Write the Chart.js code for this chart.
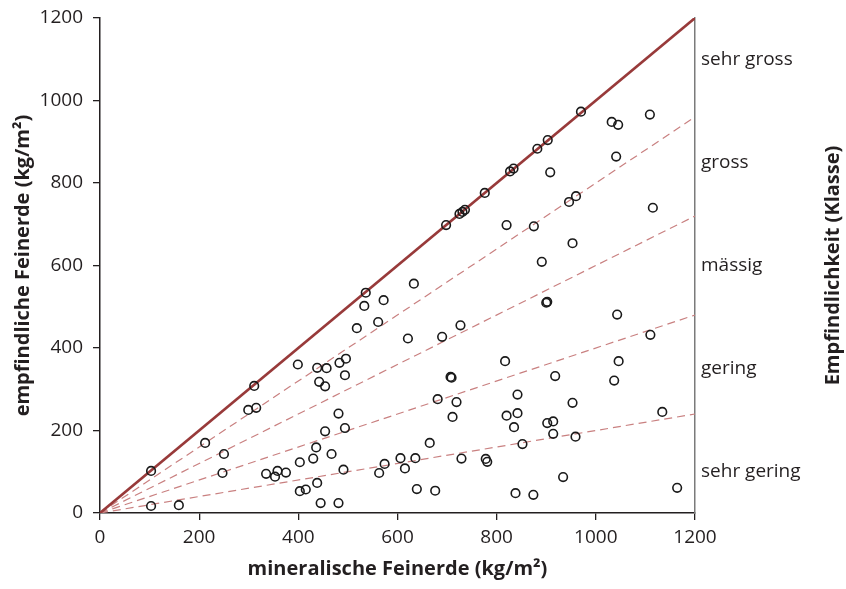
<!DOCTYPE html>
<html>
<head>
<meta charset="utf-8">
<script src="https://cdn.jsdelivr.net/npm/chart.js@4.4.1/dist/chart.umd.min.js"></script>
<style>
    html, body { margin: 0; padding: 0; background: #fff; }
    #wrap { width: 846px; height: 589px; }
</style>
</head>
<body>
<div id="wrap"><canvas id="chart"></canvas></div>
<script>
// mineralische Feinerde (x) / empfindliche Feinerde (y), kg/m²
const mineralX = [
    103, 103, 159, 212, 250, 247, 311, 299, 315, 335, 353, 358, 375, 399, 403, 403, 415, 430, 436, 438,
    445, 438, 457, 442, 454, 483, 496, 494, 454, 481, 494, 467, 491, 481, 518, 533, 536, 572, 561, 563,
    574, 633, 621, 690, 727, 900, 902, 817, 918, 707, 709, 681, 719, 711, 842, 820, 842, 835, 902, 914,
    914, 953, 959, 852, 665, 606, 636, 615, 729, 778, 781, 639, 676, 838, 874, 934, 1043, 1110, 1046, 1037,
    1134, 1164, 698, 725, 731, 736, 776, 820, 827, 834, 875, 882, 903, 908, 891, 946, 960, 953, 970, 1032,
    1045, 1109, 1041, 1115
];
const sensitiveY = [
    102, 17, 19, 170, 143, 97, 308, 250, 255, 95, 88, 102, 98, 360, 123, 53, 57, 132, 159, 73,
    24, 352, 351, 318, 307, 364, 374, 334, 198, 241, 206, 143, 105, 24, 448, 502, 534, 516, 463, 97,
    119, 556, 423, 427, 455, 510, 512, 368, 332, 330, 328, 276, 269, 233, 287, 236, 242, 208, 218, 222,
    192, 267, 185, 167, 170, 133, 133, 108, 132, 131, 124, 58, 54, 48, 44, 87, 481, 432, 368, 321,
    245, 61, 698, 725, 730, 735, 776, 698, 828, 835, 695, 883, 904, 826, 609, 754, 768, 654, 973, 948,
    941, 966, 864, 740
];

// Klassengrenzen: y-Wert der Grenzlinie bei x = 1200
const boundaryEnds = [960, 720, 480, 240];
const axisMax = 1200;

// Klassen rechts
const classLabels = ['sehr gross', 'gross', 'mässig', 'gering', 'sehr gering'];
const classPos = [1100, 850, 600, 350, 100];

const xTitle = 'mineralische Feinerde (kg/m²)';
const yTitle = 'empfindliche Feinerde (kg/m²)';
const rightTitle = 'Empfindlichkeit (Klasse)';

const FONT = '"Open Sans", sans-serif';
const TEXT = '#231f20';

const points = mineralX.map((x, i) => ({ x: x, y: sensitiveY[i] }));

const boundarySets = boundaryEnds.map(v => ({
    type: 'line',
    data: [{ x: 0, y: 0 }, { x: axisMax, y: v }],
    borderColor: '#c98080',
    borderWidth: 1.2,
    borderDash: [8, 5],
    pointRadius: 0,
    order: 2
}));

// rotated title on the right side (reads bottom to top)
const rightTitlePlugin = {
    id: 'rightTitle',
    afterDraw(chart) {
        const ctx = chart.ctx;
        const area = chart.chartArea;
        ctx.save();
        ctx.translate(833, (area.top + area.bottom) / 2);
        ctx.rotate(-Math.PI / 2);
        ctx.font = 'bold 20px ' + FONT;
        ctx.fillStyle = TEXT;
        ctx.textAlign = 'center';
        ctx.textBaseline = 'middle';
        ctx.fillText(rightTitle, 0, 0);
        ctx.restore();
    }
};

const tickFont = { family: FONT, size: 19 };
const titleFont = { family: FONT, size: 20, weight: 'bold' };

// fixed axis box widths, no extra label padding at top/bottom
function fixWidth(w) {
    return scale => {
        scale.width = w;
        scale.paddingTop = 0;
        scale.paddingBottom = 0;
    };
}

new Chart(document.getElementById('chart'), {
    type: 'scatter',
    data: {
        datasets: [
            {
                label: 'Proben',
                data: points,
                pointStyle: 'circle',
                pointRadius: 4.3,
                borderColor: '#1a1a1a',
                borderWidth: 1.6,
                backgroundColor: 'rgba(0,0,0,0)',
                order: 0
            },
            {
                type: 'line',
                data: [{ x: 0, y: 0 }, { x: axisMax, y: axisMax }],
                borderColor: '#983a3a',
                borderWidth: 2.6,
                pointRadius: 0,
                order: 1
            },
            ...boundarySets
        ]
    },
    options: {
        responsive: true,
        maintainAspectRatio: false,
        animation: false,
        layout: { padding: { top: 18, left: 0, right: 0, bottom: 0 } },
        plugins: {
            legend: { display: false },
            tooltip: { enabled: false }
        },
        scales: {
            x: {
                type: 'linear',
                min: 0,
                max: axisMax,
                ticks: { stepSize: 200, color: TEXT, font: tickFont, padding: 6, maxRotation: 0, callback: v => String(v) },
                grid: { drawOnChartArea: false, drawTicks: true, tickLength: 7, color: '#231f20', lineWidth: 1.3 },
                border: { color: '#231f20', width: 1.5 },
                title: { display: true, text: xTitle, color: TEXT, font: titleFont, padding: { top: 0, bottom: 8 } },
                afterFit(scale) { scale.height = 76; }
            },
            y: {
                type: 'linear',
                position: 'left',
                min: 0,
                max: axisMax,
                ticks: { stepSize: 200, color: TEXT, font: tickFont, padding: 10, callback: v => String(v) },
                grid: { drawOnChartArea: false, drawTicks: true, tickLength: 7, color: '#231f20', lineWidth: 1.3 },
                border: { color: '#231f20', width: 1.5 },
                title: { display: true, text: yTitle, color: TEXT, font: titleFont, padding: { top: 11, bottom: 0 } },
                afterFit: fixWidth(100)
            },
            y2: {
                type: 'linear',
                position: 'right',
                min: 0,
                max: axisMax,
                afterBuildTicks(scale) { scale.ticks = classPos.map(v => ({ value: v })); },
                ticks: {
                    color: TEXT,
                    font: tickFont,
                    padding: 6,
                    callback: v => classLabels[classPos.indexOf(v)]
                },
                grid: { drawOnChartArea: false, drawTicks: false },
                border: { color: '#7a7a7a', width: 1.5 },
                afterFit: fixWidth(151)
            }
        }
    },
    plugins: [rightTitlePlugin]
});
</script>
</body>
</html>
